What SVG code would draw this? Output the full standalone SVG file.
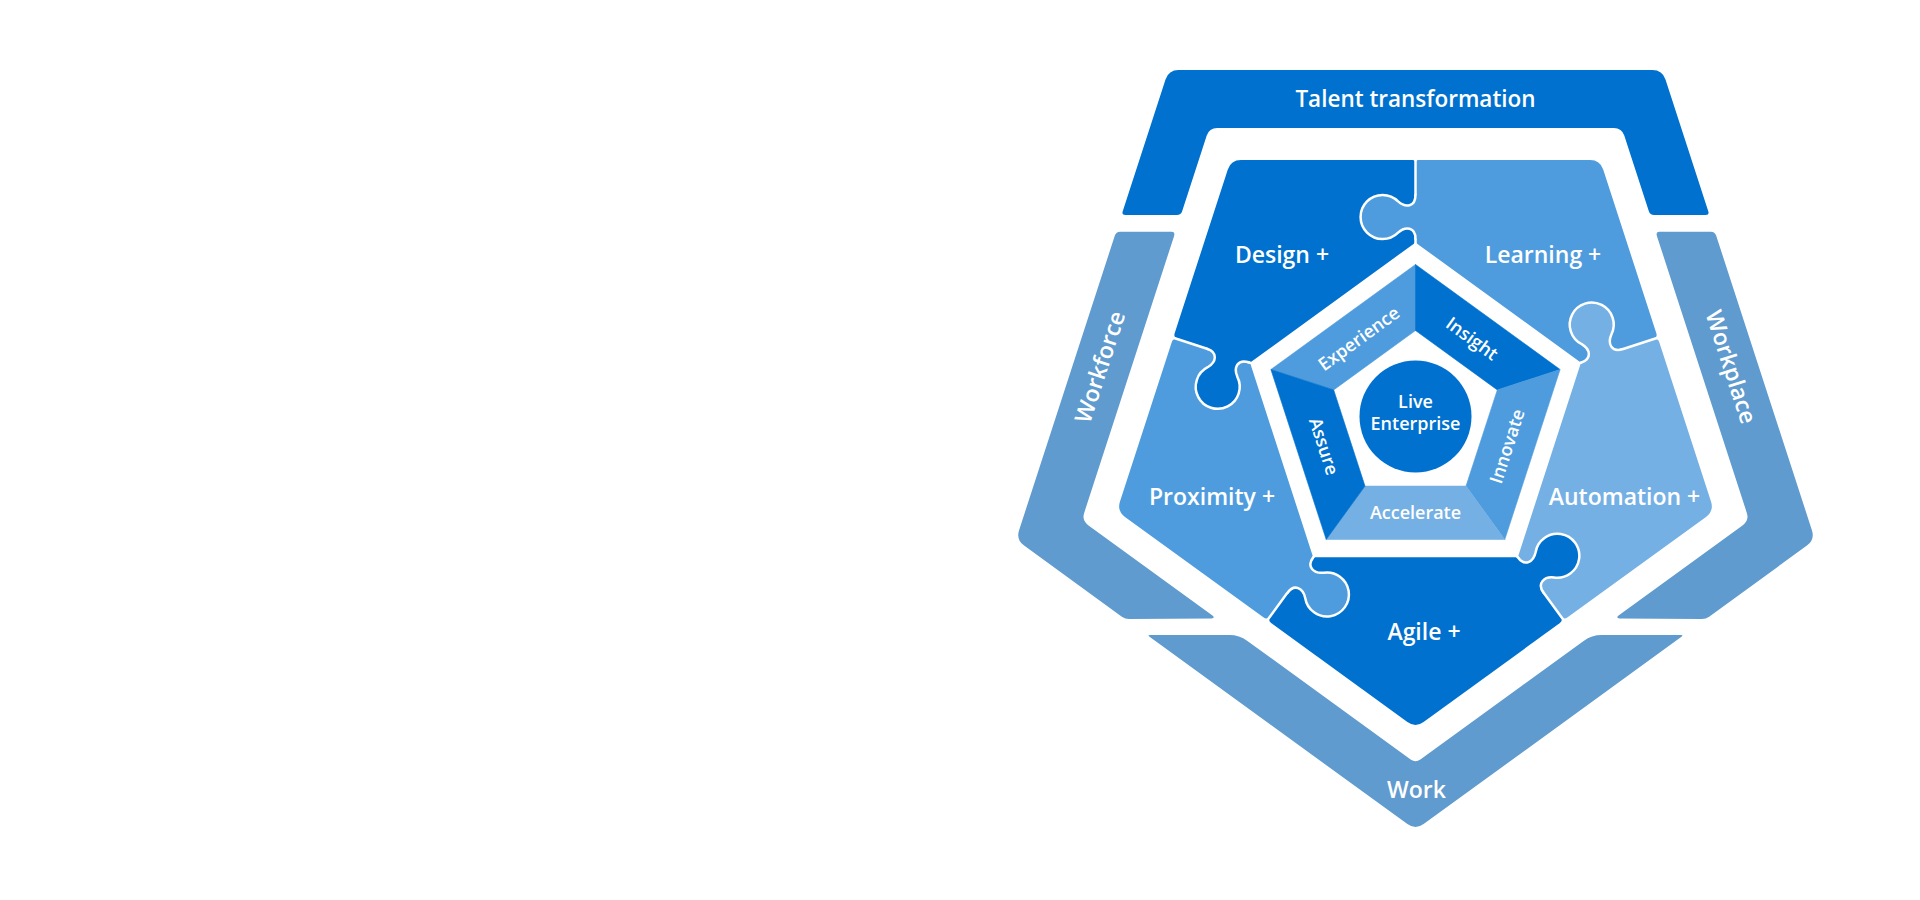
<svg xmlns="http://www.w3.org/2000/svg" xmlns:xlink="http://www.w3.org/1999/xlink" width="1920" height="900" viewBox="0 0 1920 900">
<style>
.dk{fill:#0071ce}
.md{fill:#4e9cdd}
.lt{fill:#75b0e4}
.rg{fill:#5f9bce}
.seg{stroke-width:0.6;stroke-linejoin:miter}
.sdk{stroke:#0071ce}
.smd{stroke:#4e9cdd}
.slt{stroke:#75b0e4}
.cut{stroke:#ffffff;stroke-width:2.5;fill:none;stroke-linecap:round;stroke-linejoin:round}
.lbl{font-family:"Open Sans","Noto Sans","Liberation Sans",sans-serif;font-weight:600;fill:#ffffff;text-anchor:middle}
.big{font-size:23px}
.sm{font-size:18px}
</style>
<defs>
<path id="tabFill" d="M -22,0 C -10,0 -9,-10 -15.6,-17.4 A 22 22 0 1 1 15.6,-17.4 C 9,-10 10,0 22,0 L 22,5 L -22,5 Z"/>
<path id="tabLine" d="M -22,0 C -10,0 -9,-10 -15.6,-17.4 A 22 22 0 1 1 15.6,-17.4 C 9,-10 10,0 22,0"/>
</defs>
<rect x="0" y="0" width="1920" height="900" fill="#ffffff"/>

<g id="talent-transformation">
<path class="dk" d="M 1125.5,215 Q 1121.5,215 1122.74,211.2 L 1165.51,79.51 Q 1168.6,70 1178.6,70 L 1652.4,70 Q 1662.4,70 1665.49,79.51 L 1708.26,211.2 Q 1709.5,215 1705.5,215 L 1654.1,215 Q 1650.1,215 1648.86,211.2 L 1624.27,135.61 Q 1621.8,128 1613.8,128 L 1217.2,128 Q 1209.2,128 1206.73,135.61 L 1182.14,211.2 Q 1180.9,215 1176.9,215 Z"/>
<text class="lbl" x="1415.5" y="107" style="font-size:22.5px">Talent transformation</text>
</g>
<g id="workforce">
<path class="rg" d="M 1120.1,231.7 L 1171.5,231.7 Q 1175.5,231.7 1173.95,236.46 L 1084.17,512.89 Q 1081.7,520.5 1088.17,525.2 L 1212.45,615.47 Q 1215.5,617.7 1211.5,618.5 L 1129.1,619 Q 1125.1,619 1121.86,616.65 L 1024.09,545.58 Q 1016,539.7 1019.09,530.19 L 1114.86,235.5 Q 1116.1,231.7 1120.1,231.7 Z"/>
<text class="lbl big" transform="translate(1100,367) rotate(-72)" x="0" y="8">Workforce</text>
</g>
<g id="workplace">
<path class="rg" d="M 1710.9,231.7 L 1659.5,231.7 Q 1655.5,231.7 1657.05,236.46 L 1746.83,512.89 Q 1749.3,520.5 1742.83,525.2 L 1618.55,615.47 Q 1615.5,617.7 1619.5,618.5 L 1701.9,619 Q 1705.9,619 1709.14,616.65 L 1806.91,545.58 Q 1815,539.7 1811.91,530.19 L 1716.14,235.5 Q 1714.9,231.7 1710.9,231.7 Z"/>
<text class="lbl big" transform="translate(1731,367) rotate(72)" x="0" y="8">Workplace</text>
</g>
<g id="work">
<path class="rg" d="M 1150.1,635 L 1229.3,635 Q 1239.3,635 1247.39,640.88 L 1410.65,759.47 Q 1415.5,763 1420.35,759.47 L 1583.61,640.88 Q 1591.7,635 1601.7,635 L 1680.9,635 Q 1683.9,635 1681.47,636.76 L 1423.59,824.12 Q 1415.5,830 1407.41,824.12 L 1149.53,636.76 Q 1147.1,635 1150.1,635 Z"/>
<text class="lbl big" x="1416.5" y="798">Work</text>
</g>

<g id="design">
<path class="dk" d="M 1177.96,339.25 Q 1173.2,337.7 1174.75,332.95 L 1227.81,169.51 Q 1230.9,160 1240.9,160 L 1412.5,160 Q 1415.5,160 1415.5,163 L 1415.5,240.5 Q 1415.5,242.5 1413.88,243.68 L 1251.62,361.52 Q 1250,362.7 1248.1,362.08 Z"/>
</g>
<g id="learning">
<path class="md" d="M 1653.04,339.25 Q 1657.8,337.7 1656.25,332.95 L 1603.19,169.51 Q 1600.1,160 1590.1,160 L 1418.5,160 Q 1415.5,160 1415.5,163 L 1415.5,240.5 Q 1415.5,242.5 1417.12,243.68 L 1579.38,361.52 Q 1581,362.7 1582.9,362.08 Z"/>
</g>
<g id="automation">
<path class="lt" d="M 1653.04,339.25 L 1582.9,362.08 Q 1581,362.7 1580.38,364.6 L 1518.42,555.4 Q 1517.8,557.3 1518.98,558.92 L 1560.66,616.25 Q 1563.6,620.3 1567.64,617.36 L 1706.01,516.88 Q 1714.1,511 1711.01,501.49 L 1659.34,342.46 Q 1657.8,337.7 1653.04,339.25 Z"/>
</g>
<g id="agile">
<path class="dk" d="M 1315.2,557.3 L 1515.8,557.3 Q 1517.8,557.3 1518.98,558.92 L 1560.66,616.25 Q 1563.6,620.3 1559.56,623.24 L 1423.59,722.12 Q 1415.5,728 1407.41,722.12 L 1271.44,623.24 Q 1267.4,620.3 1270.34,616.25 L 1312.02,558.92 Q 1313.2,557.3 1315.2,557.3 Z"/>
</g>
<g id="proximity">
<path class="md" d="M 1177.96,339.25 L 1248.1,362.08 Q 1250,362.7 1250.62,364.6 L 1312.58,555.4 Q 1313.2,557.3 1312.02,558.92 L 1270.34,616.25 Q 1267.4,620.3 1263.36,617.36 L 1124.99,516.88 Q 1116.9,511 1119.99,501.49 L 1171.66,342.46 Q 1173.2,337.7 1177.96,339.25 Z"/>
</g>

<g id="connectors">
<line class="cut" x1="1415.5" y1="158" x2="1415.5" y2="243"/>
<line class="cut" x1="1250" y1="362.7" x2="1171" y2="337"/>
<line class="cut" x1="1581" y1="362.7" x2="1660" y2="337"/>
<line class="cut" x1="1313.2" y1="557.3" x2="1266" y2="622"/>
<line class="cut" x1="1517.8" y1="557.3" x2="1565" y2="622"/>
</g>

<g id="tabs">
<use xlink:href="#tabFill" class="md" transform="translate(1415.5,217) rotate(-90)"/>
<use xlink:href="#tabLine" class="cut" transform="translate(1415.5,217) rotate(-90)"/>
<use xlink:href="#tabFill" class="dk" transform="translate(1227.9,355.5) rotate(198)"/>
<use xlink:href="#tabLine" class="cut" transform="translate(1227.9,355.5) rotate(198)"/>
<use xlink:href="#tabFill" class="lt" transform="translate(1601.9,355.9) rotate(-18)"/>
<use xlink:href="#tabLine" class="cut" transform="translate(1601.9,355.9) rotate(-18)"/>
<use xlink:href="#tabFill" class="md" transform="translate(1300.3,575.1) rotate(126)"/>
<use xlink:href="#tabLine" class="cut" transform="translate(1300.3,575.1) rotate(126)"/>
<use xlink:href="#tabFill" class="dk" transform="translate(1530.7,575.1) rotate(54)"/>
<use xlink:href="#tabLine" class="cut" transform="translate(1530.7,575.1) rotate(54)"/>
</g>

<g id="puzzle-labels">
<text class="lbl big" x="1282" y="263">Design +</text>
<text class="lbl big" x="1543" y="263">Learning +</text>
<text class="lbl big" x="1212" y="505">Proximity +</text>
<text class="lbl big" x="1624.5" y="505">Automation +</text>
<text class="lbl big" x="1424" y="640">Agile +</text>
</g>

<g id="experience">
<polygon class="md smd seg" points="1270.9,369.5 1415.5,264.5 1415.5,330.5 1333.7,389.9"/>
<text class="lbl sm" transform="translate(1358.9,338.6) rotate(-36)" x="0" y="6.3">Experience</text>
</g>
<g id="insight">
<polygon class="dk sdk seg" points="1415.5,264.5 1560.1,369.5 1497.3,389.9 1415.5,330.5"/>
<text class="lbl sm" transform="translate(1472.1,338.6) rotate(36)" x="0" y="6.3">Insight</text>
</g>
<g id="innovate">
<polygon class="md smd seg" points="1560.1,369.5 1504.8,539.5 1466.0,486.1 1497.3,389.9"/>
<text class="lbl sm" transform="translate(1507.1,446.3) rotate(-72)" x="0" y="6.3">Innovate</text>
</g>
<g id="accelerate">
<polygon class="lt slt seg" points="1504.8,539.5 1326.2,539.5 1365.0,486.1 1466.0,486.1"/>
<text class="lbl sm" x="1415.5" y="519">Accelerate</text>
</g>
<g id="assure">
<polygon class="dk sdk seg" points="1326.2,539.5 1270.9,369.5 1333.7,389.9 1365.0,486.1"/>
<text class="lbl sm" transform="translate(1323.9,446.3) rotate(72)" x="0" y="6.3">Assure</text>
</g>
<g id="live-enterprise">
<circle class="dk" cx="1415.5" cy="416.5" r="56"/>
<text class="lbl sm" x="1415.5" y="408">Live</text>
<text class="lbl sm" x="1415.5" y="430">Enterprise</text>
</g>
</svg>
